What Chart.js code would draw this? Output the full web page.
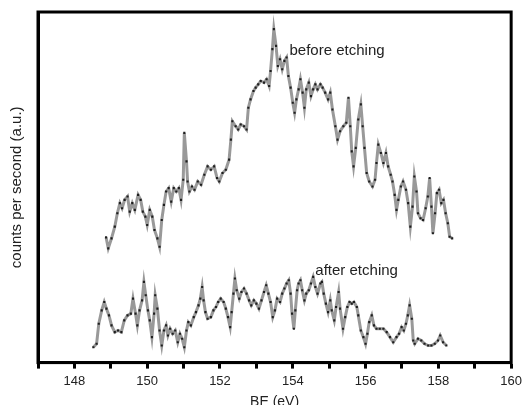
<!DOCTYPE html>
<html>
<head>
<meta charset="utf-8">
<script src="https://cdn.jsdelivr.net/npm/chart.js@4.4.1/dist/chart.umd.min.js"></script>
<style>
  html, body { margin: 0; padding: 0; background: #fff; overflow: hidden; }
  #wrap { position: relative; width: 527px; height: 411px; }
</style>
</head>
<body>
<div id="wrap"><canvas id="xpsChart"></canvas></div>
<script>
// binding energy (eV) and intensity (a.u.) for both scans
const beforeEnergy = [
  148.87, 148.93, 149.02, 149.11, 149.18, 149.25, 149.31, 149.38, 149.46, 149.52,
  149.59, 149.66, 149.75, 149.82, 149.88, 149.95, 150.00, 150.07, 150.14, 150.20,
  150.28, 150.34, 150.40, 150.46, 150.52, 150.59, 150.66, 150.73, 150.80, 150.87,
  150.93, 150.99, 151.02, 151.08, 151.11, 151.16, 151.23, 151.30, 151.39, 151.48,
  151.57, 151.66, 151.75, 151.84, 151.92, 151.98, 152.07, 152.16, 152.25, 152.30,
  152.34, 152.43, 152.50, 152.57, 152.66, 152.73, 152.78, 152.84, 152.92, 152.98,
  153.05, 153.12, 153.21, 153.28, 153.35, 153.39, 153.44, 153.48, 153.54, 153.59,
  153.65, 153.71, 153.77, 153.83, 153.88, 153.94, 154.00, 154.05, 154.10, 154.16,
  154.21, 154.27, 154.32, 154.37, 154.44, 154.50, 154.56, 154.62, 154.68, 154.76,
  154.82, 154.89, 154.97, 155.03, 155.09, 155.17, 155.23, 155.30, 155.39, 155.47,
  155.53, 155.58, 155.62, 155.67, 155.73, 155.80, 155.87, 155.92, 155.97, 156.03,
  156.10, 156.19, 156.26, 156.30, 156.35, 156.42, 156.49, 156.56, 156.62, 156.69,
  156.74, 156.80, 156.85, 156.90, 156.97, 157.03, 157.11, 157.17, 157.23, 157.29,
  157.34, 157.40, 157.44, 157.51, 157.58, 157.65, 157.71, 157.76, 157.81, 157.85,
  157.91, 157.96, 158.02, 158.08, 158.14, 158.20, 158.26, 158.31, 158.38
];
const beforeCounts = [
  124.7, 113.7, 123.7, 135.3, 148.7, 158.7, 153.7, 162.0, 165.3, 150.3,
  158.7, 152.0, 167.0, 162.0, 150.3, 145.3, 137.0, 152.0, 145.3, 132.0,
  123.7, 115.3, 142.0, 157.0, 170.3, 173.7, 160.3, 173.7, 170.3, 173.7,
  162.0, 182.0, 228.7, 200.3, 180.3, 170.3, 175.3, 172.0, 180.3, 177.0,
  187.0, 195.3, 192.0, 195.3, 183.7, 180.3, 188.7, 192.0, 202.0, 222.0,
  240.3, 235.3, 232.0, 237.0, 235.3, 232.0, 253.7, 262.0, 270.3, 273.7,
  277.0, 280.3, 278.7, 282.0, 275.3, 290.3, 312.0, 332.0, 315.3, 295.3,
  302.0, 292.0, 300.3, 303.7, 285.3, 273.7, 258.7, 248.7, 262.0, 272.0,
  282.0, 268.7, 253.7, 272.0, 278.7, 265.3, 272.0, 277.0, 272.0, 277.0,
  273.7, 268.7, 262.0, 268.7, 252.0, 235.3, 222.0, 230.3, 235.3, 238.7,
  263.7, 235.3, 210.3, 195.3, 213.7, 242.0, 257.0, 235.3, 213.7, 188.7,
  180.3, 175.3, 182.0, 198.7, 217.0, 208.7, 198.7, 208.7, 195.3, 187.0,
  180.3, 167.0, 152.0, 162.0, 175.3, 180.3, 172.0, 158.7, 135.3, 155.3,
  185.3, 170.3, 148.7, 143.7, 142.0, 153.7, 165.3, 183.7, 155.3, 128.7,
  148.7, 168.7, 172.0, 158.7, 162.0, 148.7, 138.7, 125.3, 123.7
];

const afterEnergy = [
  148.52, 148.61, 148.67, 148.75, 148.82, 148.88, 148.95, 149.02, 149.11, 149.20,
  149.29, 149.37, 149.46, 149.55, 149.61, 149.68, 149.73, 149.79, 149.86, 149.91,
  149.96, 150.02, 150.07, 150.13, 150.19, 150.22, 150.28, 150.34, 150.40, 150.46,
  150.52, 150.57, 150.63, 150.70, 150.77, 150.84, 150.90, 150.96, 151.02, 151.08,
  151.13, 151.20, 151.28, 151.34, 151.41, 151.46, 151.51, 151.55, 151.60, 151.66,
  151.75, 151.82, 151.89, 151.95, 152.02, 152.10, 152.16, 152.22, 152.28, 152.32,
  152.37, 152.41, 152.46, 152.53, 152.59, 152.66, 152.73, 152.80, 152.86, 152.93,
  153.00, 153.07, 153.14, 153.21, 153.27, 153.33, 153.39, 153.45, 153.51, 153.57,
  153.65, 153.71, 153.77, 153.83, 153.89, 153.94, 153.98, 154.03, 154.07, 154.12,
  154.16, 154.21, 154.26, 154.32, 154.37, 154.44, 154.50, 154.56, 154.62, 154.68,
  154.76, 154.80, 154.85, 154.91, 154.97, 155.03, 155.07, 155.14, 155.19, 155.26,
  155.30, 155.38, 155.44, 155.50, 155.56, 155.62, 155.68, 155.76, 155.80, 155.87,
  155.94, 156.00, 156.05, 156.10, 156.17, 156.23, 156.30, 156.39, 156.49, 156.58,
  156.67, 156.76, 156.85, 156.92, 156.99, 157.05, 157.11, 157.16, 157.21, 157.27,
  157.31, 157.35, 157.44, 157.53, 157.62, 157.72, 157.81, 157.90, 157.99, 158.05,
  158.13, 158.22
];
const afterCounts = [
  15.3, 18.7, 38.7, 52.0, 60.3, 53.7, 47.0, 37.0, 30.3, 32.0,
  30.3, 42.0, 47.0, 48.7, 63.7, 48.7, 37.0, 52.0, 62.0, 80.3,
  67.0, 52.0, 42.0, 25.3, 48.7, 67.0, 53.7, 32.0, 17.0, 32.0,
  37.0, 27.0, 33.7, 28.7, 32.0, 20.3, 28.7, 23.7, 15.3, 32.0,
  40.3, 37.0, 45.3, 50.3, 57.0, 63.7, 75.3, 62.0, 50.3, 43.7,
  45.3, 52.0, 55.3, 60.3, 63.7, 60.3, 53.7, 45.3, 35.3, 50.3,
  68.7, 83.7, 72.0, 63.7, 70.3, 73.7, 68.7, 62.0, 57.0, 62.0,
  58.7, 53.7, 62.0, 70.3, 77.0, 68.7, 60.3, 45.3, 52.0, 63.7,
  60.3, 68.7, 73.7, 78.7, 82.0, 68.7, 48.7, 33.7, 52.0, 72.0,
  78.7, 82.0, 72.0, 62.0, 68.7, 72.0, 78.7, 85.3, 75.3, 68.7,
  78.7, 80.3, 68.7, 58.7, 50.3, 62.0, 52.0, 42.0, 55.3, 70.3,
  53.7, 33.7, 45.3, 55.3, 60.3, 58.7, 60.3, 55.3, 47.0, 32.0,
  25.3, 18.7, 28.7, 40.3, 47.0, 37.0, 33.7, 33.7, 33.7, 30.3,
  25.3, 20.3, 25.3, 28.7, 35.3, 32.0, 38.7, 47.0, 57.0, 43.7,
  22.0, 18.7, 23.7, 22.0, 18.7, 17.0, 17.0, 18.7, 22.0, 27.0,
  20.3, 17.0
];

const xTicks = [147, 148, 149, 150, 151, 152, 153, 154, 155, 156, 157, 158, 159, 160];
const curveLabels = [
  { text: 'before etching', x: 153.91, y: 310 },
  { text: 'after etching', x: 154.62, y: 91 }
];

const FONT = '"Liberation Sans", Arial, sans-serif';

function toPoints(xs, ys) {
  return xs.map((x, i) => ({ x: x, y: ys[i] }));
}

function seriesStyle(data) {
  return {
    data: data,
    borderColor: '#999999',
    borderWidth: 3,
    pointStyle: 'rect',
    pointRadius: 1.5,
    pointBackgroundColor: '#1e1e1e',
    pointBorderWidth: 0,
    tension: 0,
    fill: false
  };
}

// closed frame around the plot area plus the in-plot curve labels
const framePlugin = {
  id: 'frame',
  afterDatasetsDraw(chart) {
    const { ctx, chartArea: a, scales } = chart;
    ctx.save();
    ctx.strokeStyle = '#000';
    ctx.lineWidth = 3;
    ctx.strokeRect(a.left, a.top, a.right - a.left, a.bottom - a.top);

    ctx.fillStyle = '#222';
    ctx.font = '15px ' + FONT;
    ctx.textBaseline = 'middle';
    ctx.textAlign = 'left';
    curveLabels.forEach(l => {
      ctx.fillText(l.text, scales.x.getPixelForValue(l.x), scales.y.getPixelForValue(l.y));
    });
    ctx.restore();
  }
};

new Chart(document.getElementById('xpsChart').getContext('2d'), {
  type: 'line',
  data: {
    datasets: [
      seriesStyle(toPoints(beforeEnergy, beforeCounts)),
      seriesStyle(toPoints(afterEnergy, afterCounts))
    ]
  },
  options: {
    responsive: true,
    maintainAspectRatio: false,
    animation: false,
    layout: { padding: { top: 12, right: 0, bottom: 0, left: 8 } },
    plugins: {
      legend: { display: false },
      tooltip: { enabled: false }
    },
    scales: {
      x: {
        type: 'linear',
        min: 147,
        max: 160,
        afterBuildTicks(scale) {
          scale.ticks = xTicks.map(v => ({ value: v }));
        },
        ticks: {
          autoSkip: false,
          maxRotation: 0,
          color: '#222',
          font: { family: FONT, size: 13 },
          padding: 5,
          callback: v => (v % 2 === 0 ? String(v) : '')
        },
        grid: {
          drawOnChartArea: false,
          drawTicks: true,
          tickLength: 6,
          tickWidth: 3,
          color: '#000'
        },
        border: { display: true, color: '#000', width: 3 },
        title: {
          display: true,
          text: 'BE (eV)',
          color: '#222',
          font: { family: FONT, size: 14 },
          padding: { top: 0, bottom: 0 }
        }
      },
      y: {
        type: 'linear',
        min: 0,
        max: 349,
        ticks: { display: false },
        grid: { display: false },
        border: { display: true, color: '#000', width: 3 },
        title: {
          display: true,
          text: 'counts per second (a.u.)',
          color: '#222',
          font: { family: FONT, size: 15 },
          padding: { top: 0, bottom: 4 }
        }
      }
    }
  },
  plugins: [framePlugin]
});
</script>
</body>
</html>
